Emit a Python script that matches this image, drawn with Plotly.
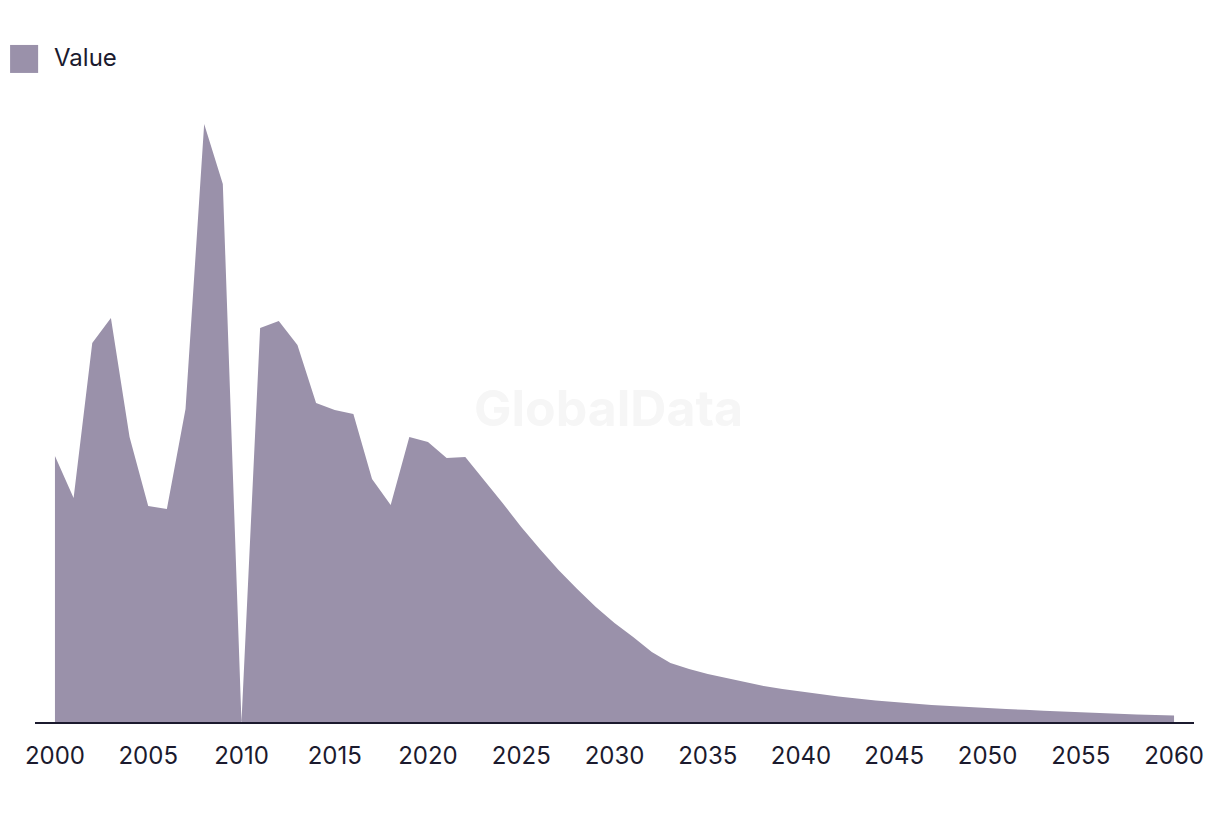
import plotly.graph_objects as go

years = list(range(2000, 2061))
values = [266, 224, 379, 404, 285, 216, 213, 313, 598, 538,
          0, 394, 401, 377, 319, 312, 308, 243, 217, 285,
          280, 264, 265, 242, 219, 195, 173, 152, 133, 115,
          99, 85, 70, 59, 53, 48, 44, 40, 36, 33,
          30.5, 28, 25.5, 23.5, 21.5, 20, 18.5, 17, 16, 15,
          14, 13, 12.2, 11.3, 10.5, 9.7, 9, 8.3, 7.6, 7,
          6.5]
tick_years = list(range(2000, 2061, 5))
series_name = "Value"

fill_col = "#9a91aa"
text_col = "#1b1a2e"

fig = go.Figure()
fig.add_trace(go.Scatter(x=years, y=values, name=series_name, mode="none",
                         fill="tozeroy", fillcolor=fill_col, showlegend=False,
                         hoverinfo="x+y"))

# legend drawn by hand (plotly clamps legend symbol size)
fig.add_shape(type="rect", xref="paper", yref="paper",
              x0=-0.0215, x1=0.0027, y0=1.0435, y1=1.0885,
              fillcolor=fill_col, line_width=0)
fig.add_annotation(text=series_name, xref="paper", yref="paper",
                   x=0.015, y=1.068, xanchor="left", yanchor="middle",
                   showarrow=False, font=dict(size=24, color=text_col))

# watermark
fig.add_annotation(text="<b>GlobalData</b>", xref="paper", yref="paper",
                   x=0.495, y=0.505, showarrow=False,
                   font=dict(size=50, color="#f6f6f6"))

# page body has 8px margin, so figure is a bit smaller than the window
fig.update_layout(
    width=1212, height=806,
    margin=dict(l=27, r=26, t=92, b=92),
    paper_bgcolor="white", plot_bgcolor="white",
    font=dict(family="Inter, Roboto, sans-serif", color=text_col),
    xaxis=dict(range=[1998.93, 2061.07], tickvals=tick_years,
               showgrid=False, zeroline=False, showline=True,
               linecolor=text_col, linewidth=2, ticks="",
               ticklabelstandoff=11,
               tickfont=dict(size=24, color=text_col)),
    yaxis=dict(range=[0, 622], visible=False),
)

fig.write_html("out.html")
